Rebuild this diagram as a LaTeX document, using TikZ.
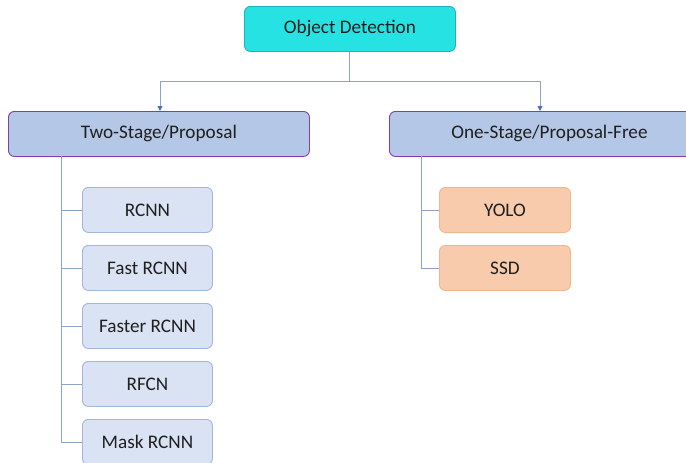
\documentclass[tikz,border=0pt]{standalone}
\usepackage{fontspec}
\setmainfont{Carlito}
\usetikzlibrary{arrows.meta}
\definecolor{rootfill}{HTML}{26E2E2}
\definecolor{rootedge}{HTML}{1AB5B8}
\definecolor{catfill}{HTML}{B4C7E7}
\definecolor{catedge}{HTML}{7F3FA8}
\definecolor{leaffill}{HTML}{DAE3F3}
\definecolor{leafedge}{HTML}{A2B6DC}
\definecolor{orfill}{HTML}{F8CBAD}
\definecolor{oredge}{HTML}{F2B68E}
\definecolor{wire}{HTML}{8FA3C9}
\definecolor{tipblue}{HTML}{4472C4}
\tikzset{
  x=1pt, y=-1pt,
  box/.style={rounded corners=6pt, line width=0.9pt, inner sep=0pt, anchor=north west,
    font=\fontsize{19.2}{21}\selectfont, text=black!88},
  rootbox/.style={box, fill=rootfill, draw=rootedge, minimum width=211pt, minimum height=45pt},
  catbox/.style={box, fill=catfill, draw=catedge, minimum width=301pt, minimum height=45pt},
  leafbox/.style={box, fill=leaffill, draw=leafedge, minimum width=130pt, minimum height=45pt},
  orbox/.style={box, fill=orfill, draw=oredge, minimum width=131pt, minimum height=45pt},
  wireline/.style={draw=wire, line width=0.9pt},
  arr/.style={wireline, -{Triangle[length=5pt,width=5pt,fill=tipblue,color=tipblue]}},
}
\begin{document}
\begin{tikzpicture}
\useasboundingbox (0,0) rectangle (686,463);
\clip (0,0) rectangle (686,463);
\fill[white] (0,0) rectangle (686,463);

% boxes
\node[rootbox] (root) at (244,6) {Object Detection};
\node[catbox] (two) at (8,111) {Two-Stage/Proposal};
\node[catbox, minimum width=320pt] (one) at (389,111) {One-Stage/Proposal-Free};

\node[leafbox] (rcnn)   at (82,187) {RCNN};
\node[leafbox] (fast)   at (82,245) {Fast RCNN};
\node[leafbox] (faster) at (82,303) {Faster RCNN};
\node[leafbox] (rfcn)   at (82,361) {RFCN};
\node[leafbox] (mask)   at (82,419) {Mask RCNN};

\node[orbox] (yolo) at (439,187) {YOLO};
\node[orbox] (ssd)  at (439,245) {SSD};

% connectors from the root
\coordinate (split) at (349,81);
\coordinate (jl) at (160,81);
\coordinate (jr) at (540,81);
\draw[wireline] (root.south -| split) -- (split);
\draw[wireline] (jl) -- (jr);
\draw[arr] (jl) -- (jl |- two.north);
\draw[arr] (jr) -- (jr |- one.north);

% left branch
\coordinate (lt) at (61,156);
\draw[wireline] (lt) -- (lt |- mask.west) -- (mask.west);
\foreach \n in {rcnn,fast,faster,rfcn}
  \draw[wireline] (lt |- \n.west) -- (\n.west);

% right branch
\coordinate (rt) at (421,156);
\draw[wireline] (rt) -- (rt |- ssd.west) -- (ssd.west);
\draw[wireline] (rt |- yolo.west) -- (yolo.west);
\end{tikzpicture}
\end{document}
